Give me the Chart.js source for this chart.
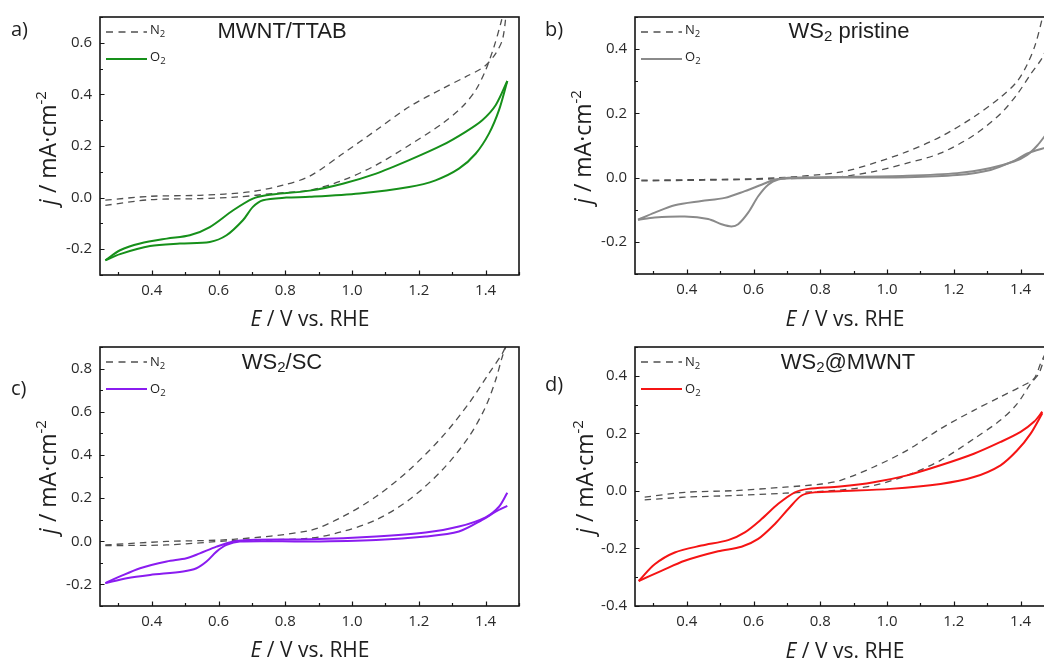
<!DOCTYPE html>
<html>
<head>
<meta charset="utf-8">
<script src="https://cdn.jsdelivr.net/npm/chart.js@4.4.1/dist/chart.umd.min.js"></script>
<style>
  html, body { margin: 0; padding: 0; background: #fff; overflow: hidden; }
  body { width: 1044px; height: 661px; position: relative; font-family: "Open Sans", sans-serif; color: #1e1e1e; }
  canvas { position: absolute; }
  .t { position: absolute; white-space: nowrap; line-height: 1; }
  .lab { font-size: 20px; }
  .ttl { font-family: "Liberation Sans", Arial, sans-serif; font-size: 22px; width: 300px; text-align: center; }
  .ttl .sb { font-size: 15px; position: relative; top: 3px; }
  .leg { font-size: 13px; }
  .leg .sb { font-size: 9.5px; position: relative; top: 3px; }
  .xt { font-size: 21px; width: 300px; text-align: center; }
  .yt { font-size: 23px; transform: translate(-50%, -50%) rotate(-90deg); }
  .yt .sp { font-size: 15px; position: relative; top: -10px; }
</style>
</head>
<body>
<canvas id="pa"></canvas>
<canvas id="pb"></canvas>
<canvas id="pc"></canvas>
<canvas id="pd"></canvas>

<div class="t lab" style="left:11px;top:19px">a)</div>
<div class="t lab" style="left:545px;top:19px">b)</div>
<div class="t lab" style="left:11px;top:378px">c)</div>
<div class="t lab" style="left:545px;top:374px">d)</div>

<div class="t ttl" style="left:132px;top:20px">MWNT/TTAB</div>
<div class="t ttl" style="left:699px;top:20px">WS<span class="sb">2</span> pristine</div>
<div class="t ttl" style="left:132px;top:351px">WS<span class="sb">2</span>/SC</div>
<div class="t ttl" style="left:698px;top:351px">WS<span class="sb">2</span>@MWNT</div>

<div class="t leg" style="left:150px;top:23px">N<span class="sb">2</span></div>
<div class="t leg" style="left:150px;top:50px">O<span class="sb">2</span></div>
<div class="t leg" style="left:685px;top:23px">N<span class="sb">2</span></div>
<div class="t leg" style="left:685px;top:50px">O<span class="sb">2</span></div>
<div class="t leg" style="left:150px;top:355px">N<span class="sb">2</span></div>
<div class="t leg" style="left:150px;top:382px">O<span class="sb">2</span></div>
<div class="t leg" style="left:685px;top:355px">N<span class="sb">2</span></div>
<div class="t leg" style="left:685px;top:382px">O<span class="sb">2</span></div>

<div class="t xt" style="left:160px;top:308px"><i>E</i> / V vs. RHE</div>
<div class="t xt" style="left:695px;top:308px"><i>E</i> / V vs. RHE</div>
<div class="t xt" style="left:160px;top:639px"><i>E</i> / V vs. RHE</div>
<div class="t xt" style="left:695px;top:640px"><i>E</i> / V vs. RHE</div>

<div class="t yt" style="left:47px;top:148px"><i>j</i> / mA·cm<span class="sp">-2</span></div>
<div class="t yt" style="left:582px;top:147px"><i>j</i> / mA·cm<span class="sp">-2</span></div>
<div class="t yt" style="left:47px;top:477px"><i>j</i> / mA·cm<span class="sp">-2</span></div>
<div class="t yt" style="left:584px;top:477px"><i>j</i> / mA·cm<span class="sp">-2</span></div>

<script>
// tick labels
const xTicks = [0.4, 0.6, 0.8, 1.0, 1.2, 1.4];
const aTicks = [-0.2, 0.0, 0.2, 0.4, 0.6];
const bTicks = [-0.2, 0.0, 0.2, 0.4];
const cTicks = [-0.2, 0.0, 0.2, 0.4, 0.6, 0.8];
const dTicks = [-0.4, -0.2, 0.0, 0.2, 0.4];

// a) MWNT/TTAB  [E, j]
const aO2Up = [[0.261,-0.243],[0.305,-0.204],[0.365,-0.178],[0.445,-0.159],[0.514,-0.146],[0.574,-0.114],[0.644,-0.049],[0.703,-0.004],[0.743,0.009],[0.873,0.027],[0.972,0.054],[1.072,0.093],[1.171,0.145],[1.27,0.203],[1.34,0.255],[1.39,0.30],[1.43,0.358],[1.465,0.452]];
const aO2Dn = [[0.261,-0.243],[0.305,-0.219],[0.395,-0.188],[0.484,-0.178],[0.574,-0.172],[0.624,-0.146],[0.673,-0.088],[0.703,-0.036],[0.733,-0.010],[0.803,0.0],[0.873,0.003],[1.022,0.016],[1.171,0.041],[1.25,0.067],[1.32,0.112],[1.37,0.17],[1.41,0.248],[1.44,0.339],[1.465,0.452]];
const aN2Up = [[0.261,-0.010],[0.395,0.005],[0.544,0.009],[0.693,0.022],[0.793,0.048],[0.873,0.083],[0.972,0.17],[1.072,0.261],[1.171,0.352],[1.27,0.422],[1.34,0.468],[1.395,0.507],[1.43,0.558],[1.452,0.62],[1.466,0.78]];
const aN2Dn = [[0.261,-0.030],[0.395,-0.008],[0.544,-0.004],[0.664,0.003],[0.763,0.016],[0.873,0.029],[0.972,0.067],[1.072,0.126],[1.171,0.203],[1.27,0.287],[1.33,0.352],[1.37,0.416],[1.40,0.494],[1.425,0.584],[1.445,0.674],[1.466,0.78]];

// b) WS2 pristine
const bO2Up = [[0.254,-0.131],[0.304,-0.109],[0.364,-0.086],[0.444,-0.073],[0.514,-0.063],[0.574,-0.042],[0.624,-0.022],[0.664,-0.006],[0.704,0.0],[0.859,0.002],[1.06,0.006],[1.21,0.014],[1.31,0.030],[1.38,0.050],[1.42,0.071],[1.45,0.10],[1.48,0.14]];
const bO2Dn = [[0.254,-0.131],[0.304,-0.124],[0.394,-0.121],[0.464,-0.129],[0.504,-0.145],[0.534,-0.152],[0.554,-0.145],[0.584,-0.109],[0.614,-0.058],[0.644,-0.022],[0.674,-0.006],[0.714,-0.002],[0.859,0.0],[1.06,0.001],[1.21,0.008],[1.31,0.024],[1.38,0.052],[1.42,0.075],[1.48,0.095]];
const bN2Up = [[0.264,-0.008],[0.45,-0.006],[0.664,-0.001],[0.859,0.017],[0.96,0.045],[1.06,0.081],[1.16,0.127],[1.26,0.189],[1.34,0.25],[1.39,0.30],[1.42,0.353],[1.444,0.414],[1.465,0.496],[1.48,0.56]];
const bN2Dn = [[0.264,-0.010],[0.45,-0.008],[0.664,-0.004],[0.859,0.003],[0.96,0.019],[1.06,0.045],[1.16,0.076],[1.26,0.132],[1.34,0.199],[1.39,0.26],[1.43,0.322],[1.465,0.373],[1.48,0.41]];

// c) WS2/SC
const cO2Up = [[0.261,-0.194],[0.305,-0.163],[0.365,-0.125],[0.445,-0.094],[0.504,-0.079],[0.544,-0.056],[0.594,-0.025],[0.644,-0.001],[0.693,0.006],[0.873,0.009],[1.072,0.022],[1.22,0.040],[1.32,0.068],[1.40,0.111],[1.44,0.16],[1.465,0.225]];
const cO2Dn = [[0.261,-0.194],[0.325,-0.171],[0.395,-0.156],[0.494,-0.140],[0.534,-0.125],[0.564,-0.094],[0.594,-0.048],[0.624,-0.017],[0.664,-0.001],[0.873,-0.001],[1.072,0.006],[1.22,0.022],[1.32,0.045],[1.39,0.099],[1.43,0.137],[1.465,0.164]];
const cN2Up = [[0.261,-0.017],[0.445,-0.001],[0.644,0.009],[0.873,0.05],[0.972,0.114],[1.072,0.207],[1.171,0.33],[1.27,0.484],[1.35,0.639],[1.41,0.778],[1.45,0.87],[1.465,0.92]];
const cN2Dn = [[0.261,-0.020],[0.445,-0.017],[0.644,0.003],[0.873,0.014],[0.972,0.045],[1.072,0.099],[1.171,0.192],[1.27,0.33],[1.35,0.484],[1.40,0.623],[1.43,0.747],[1.45,0.855],[1.465,0.92]];

// d) WS2@MWNT
const dO2Up = [[0.256,-0.313],[0.304,-0.255],[0.364,-0.214],[0.444,-0.19],[0.524,-0.171],[0.574,-0.144],[0.624,-0.098],[0.674,-0.045],[0.724,-0.005],[0.764,0.007],[0.859,0.015],[0.96,0.030],[1.06,0.054],[1.16,0.089],[1.26,0.129],[1.34,0.17],[1.40,0.205],[1.44,0.24],[1.465,0.275]];
const dO2Dn = [[0.256,-0.313],[0.324,-0.278],[0.394,-0.243],[0.494,-0.21],[0.564,-0.194],[0.614,-0.167],[0.664,-0.115],[0.704,-0.063],[0.744,-0.016],[0.784,-0.005],[0.859,-0.001],[1.01,0.007],[1.16,0.024],[1.26,0.048],[1.34,0.089],[1.39,0.141],[1.43,0.199],[1.465,0.27]];
const dN2Up = [[0.274,-0.022],[0.394,-0.005],[0.544,0.001],[0.694,0.013],[0.804,0.024],[0.859,0.036],[0.96,0.083],[1.06,0.141],[1.16,0.216],[1.26,0.28],[1.34,0.327],[1.40,0.362],[1.44,0.39],[1.46,0.443],[1.475,0.48]];
const dN2Dn = [[0.274,-0.031],[0.394,-0.022],[0.544,-0.016],[0.694,-0.008],[0.859,0.003],[0.96,0.019],[1.06,0.054],[1.16,0.106],[1.26,0.181],[1.34,0.246],[1.39,0.303],[1.43,0.373],[1.455,0.408],[1.475,0.48]];

const N2_COLOR = '#505050';
const N2_DASH = [6.5, 5];

// frame, inward major/minor ticks and legend samples
const framePlugin = {
  id: 'frame',
  afterDraw(chart, args, opts) {
    const { ctx, chartArea: area, scales: { x, y } } = chart;
    ctx.save();
    ctx.strokeStyle = '#161616';
    ctx.lineWidth = 1.2;
    ctx.beginPath();
    for (let k = Math.ceil(x.min * 10 - 1e-9); k <= Math.floor(x.max * 10 + 1e-9); k++) {
      const px = Math.round(x.getPixelForValue(k / 10)) + 0.5;
      const len = k % 2 === 0 ? 4.5 : 3;
      ctx.moveTo(px, area.bottom);
      ctx.lineTo(px, area.bottom - len);
    }
    for (let k = Math.ceil(y.min * 10 - 1e-9); k <= Math.floor(y.max * 10 + 1e-9); k++) {
      const py = Math.round(y.getPixelForValue(k / 10)) + 0.5;
      const len = k % 2 === 0 ? 4.5 : 3;
      ctx.moveTo(area.left, py);
      ctx.lineTo(area.left + len, py);
    }
    ctx.stroke();

    ctx.lineWidth = 1.6;
    ctx.strokeRect(area.left, area.top, area.right - area.left, area.bottom - area.top);

    // legend samples
    ctx.lineWidth = 1.3;
    ctx.strokeStyle = N2_COLOR;
    ctx.setLineDash([7, 5.5]);
    ctx.beginPath();
    ctx.moveTo(area.left + 6, area.top + 15);
    ctx.lineTo(area.left + 47, area.top + 15);
    ctx.stroke();
    ctx.setLineDash([]);
    ctx.lineWidth = 2;
    ctx.strokeStyle = opts.o2Color;
    ctx.beginPath();
    ctx.moveTo(area.left + 6, area.top + 42);
    ctx.lineTo(area.left + 47, area.top + 42);
    ctx.stroke();
    ctx.restore();
  }
};

function toXY(pairs) {
  return pairs.map(([x, y]) => ({ x, y }));
}

function makePanel(id, cfg) {
  const canvas = document.getElementById(id);
  canvas.width = cfg.w;
  canvas.height = cfg.h;
  canvas.style.left = cfg.left + 'px';
  canvas.style.top = cfg.top + 'px';

  const o2 = (pts) => ({
    data: toXY(pts), showLine: true, borderColor: cfg.o2Color, borderWidth: 2,
    pointRadius: 0, tension: 0.3, clip: 0,
  });
  const n2 = (pts) => ({
    data: toXY(pts), showLine: true, borderColor: N2_COLOR, borderWidth: 1.3,
    borderDash: N2_DASH, pointRadius: 0, tension: 0.3, clip: 0,
  });

  return new Chart(canvas, {
    type: 'scatter',
    data: {
      datasets: [o2(cfg.o2Up), o2(cfg.o2Dn), n2(cfg.n2Up), n2(cfg.n2Dn)],
    },
    options: {
      responsive: false,
      animation: false,
      devicePixelRatio: 1,
      layout: { padding: { top: cfg.padTop, right: cfg.padRight, left: 0, bottom: 0 } },
      plugins: {
        legend: { display: false },
        tooltip: { enabled: false },
        frame: { o2Color: cfg.o2Color },
      },
      scales: {
        x: {
          type: 'linear', min: 0.245, max: 1.5,
          grid: { display: false, drawTicks: false },
          border: { display: false },
          afterBuildTicks: (s) => { s.ticks = xTicks.map((v) => ({ value: v })); },
          afterFit: (s) => { s.height = cfg.xHeight; },
          ticks: {
            padding: 7, color: '#2a2a2a',
            font: { family: '"Open Sans", sans-serif', size: 15 },
            callback: (v) => v.toFixed(1),
          },
        },
        y: {
          type: 'linear', min: cfg.yMin, max: cfg.yMax,
          grid: { display: false, drawTicks: false },
          border: { display: false },
          afterBuildTicks: (s) => { s.ticks = cfg.yTicks.map((v) => ({ value: v })); },
          afterFit: (s) => { s.width = cfg.yWidth; },
          ticks: {
            padding: 8, color: '#2a2a2a',
            font: { family: '"Open Sans", sans-serif', size: 15 },
            callback: (v) => v.toFixed(1),
          },
        },
      },
    },
    plugins: [framePlugin],
  });
}

makePanel('pa', { left: 0, top: 0, w: 522, h: 330, yWidth: 100, padTop: 16, padRight: 3, xHeight: 55,
  yMin: -0.3, yMax: 0.7, yTicks: aTicks, o2Color: '#16901a',
  o2Up: aO2Up, o2Dn: aO2Dn, n2Up: aN2Up, n2Dn: aN2Dn });
makePanel('pb', { left: 522, top: 0, w: 535, h: 330, yWidth: 113, padTop: 16, padRight: 3, xHeight: 56,
  yMin: -0.3, yMax: 0.5, yTicks: bTicks, o2Color: '#8a8a8a',
  o2Up: bO2Up, o2Dn: bO2Dn, n2Up: bN2Up, n2Dn: bN2Dn });
makePanel('pc', { left: 0, top: 330, w: 522, h: 331, yWidth: 100, padTop: 17, padRight: 3, xHeight: 55,
  yMin: -0.3, yMax: 0.9, yTicks: cTicks, o2Color: '#8a1cf0',
  o2Up: cO2Up, o2Dn: cO2Dn, n2Up: cN2Up, n2Dn: cN2Dn });
makePanel('pd', { left: 522, top: 330, w: 535, h: 331, yWidth: 113, padTop: 17, padRight: 3, xHeight: 55,
  yMin: -0.4, yMax: 0.5, yTicks: dTicks, o2Color: '#f51414',
  o2Up: dO2Up, o2Dn: dO2Dn, n2Up: dN2Up, n2Dn: dN2Dn });
</script>
</body>
</html>
